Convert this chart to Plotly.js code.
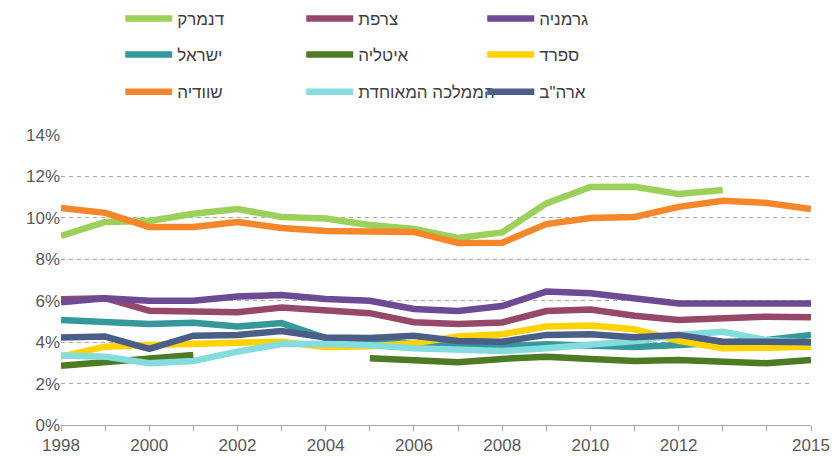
<!DOCTYPE html>
<html>
<head>
<meta charset="utf-8">
<script src="https://cdn.plot.ly/plotly-3.0.1.min.js"></script>
<style>html,body{margin:0;padding:0;background:#fff;}#chart{width:832px;height:456px;}</style>
</head>
<body>
<div id="chart"></div>
<script>
const years = [1998,1999,2000,2001,2002,2003,2004,2005,2006,2007,2008,2009,2010,2011,2012,2013,2014,2015];
const tickLabels = ['1998','','2000','','2002','','2004','','2006','','2008','','2010','','2012','','','2015'];

const denmark = [9.13,9.8,9.85,10.2,10.43,10.04,9.97,9.66,9.46,9.03,9.3,10.7,11.49,11.5,11.15,11.35,null,null];
const france  = [6.07,6.12,5.52,5.47,5.44,5.67,5.52,5.4,4.96,4.87,4.95,5.5,5.58,5.27,5.07,5.15,5.23,5.2];
const germany = [5.92,6.12,6.0,6.0,6.2,6.28,6.08,6.0,5.6,5.5,5.74,6.44,6.36,6.14,5.87,5.87,5.87,5.87];
const israel  = [5.07,4.94,4.88,4.94,4.75,4.92,4.2,4.15,3.9,3.86,3.8,3.9,3.85,3.76,3.86,3.95,4.1,4.35];
const italy   = [2.86,3.01,3.19,3.38,null,null,null,3.22,3.1,3.03,3.19,3.3,3.19,3.09,3.14,3.09,2.98,3.14];
const spain   = [3.3,3.78,3.86,3.92,3.99,4.02,3.76,3.8,3.95,4.27,4.38,4.75,4.8,4.62,4.06,3.7,3.73,3.78];
const sweden  = [10.48,10.24,9.56,9.56,9.8,9.51,9.37,9.37,9.32,8.79,8.8,9.7,9.99,10.04,10.53,10.82,10.72,10.43];
const uk      = [3.35,3.3,2.98,3.09,3.54,3.91,3.92,3.85,3.7,3.62,3.57,3.7,3.9,4.05,4.35,4.5,4.1,3.98];
const usa     = [4.23,4.27,3.67,4.31,4.35,4.54,4.23,4.2,4.31,4.06,4.02,4.35,4.38,4.24,4.35,4.02,4.02,3.99];

const names = ['דנמרק','צרפת','גרמניה','ישראל','איטליה','ספרד','שוודיה','הממלכה המאוחדת','ארה"ב'];
const series = [denmark,france,germany,israel,italy,spain,sweden,uk,usa];
const colors = ['#9BD15A','#964868','#6C4A94','#35999C','#4E7A23','#FFD200','#F5862A','#84DCDF','#4A5E88'];
const legendIds = ['legend','legend','legend','legend2','legend2','legend2','legend3','legend3','legend3'];

const traces = series.map((s,i)=>({
  x: years, y: s, name: names[i], type:'scatter', mode:'lines',
  line:{color:colors[i], width:6.5}, connectgaps:false, legend: legendIds[i],
  hoverinfo:'skip'
}));

const legendFont = {family:'Liberation Sans, Arial, sans-serif', size:17, color:'#404040'};
function mkLegend(yv){
  return {orientation:'h', x:0.079, xanchor:'left', y:yv, yanchor:'middle',
    font:legendFont, itemwidth:47, entrywidth:119, entrywidthmode:'pixels', bgcolor:'rgba(0,0,0,0)',
    traceorder:'normal'};
}

const layout = {
  width:832, height:456,
  margin:{l:61, r:21, t:135, b:31, autoexpand:false},
  paper_bgcolor:'#fff', plot_bgcolor:'#fff',
  font:{family:'Liberation Sans, Arial, sans-serif', size:17, color:'#595959'},
  showlegend:true,
  legend: mkLegend(1.40),
  legend2: mkLegend(1.276),
  legend3: mkLegend(1.148),
  xaxis:{range:[1998,2015], tickmode:'array', tickvals:years, ticktext:tickLabels,
    showgrid:false, zeroline:false, showline:true, linecolor:'#a6a6a6', linewidth:1,
    ticks:'outside', ticklen:5, tickcolor:'#a6a6a6', tickfont:{size:17,color:'#595959'}},
  yaxis:{range:[0,14], dtick:2, ticksuffix:'%', showgrid:true, gridcolor:'#a6a6a6',
    griddash:'4px,4px', gridwidth:1, zeroline:false, showline:false, ticks:'',
    tickfont:{size:17,color:'#595959'}}
};

Plotly.newPlot('chart', traces, layout, {staticPlot:true, displayModeBar:false});
</script>
</body>
</html>
